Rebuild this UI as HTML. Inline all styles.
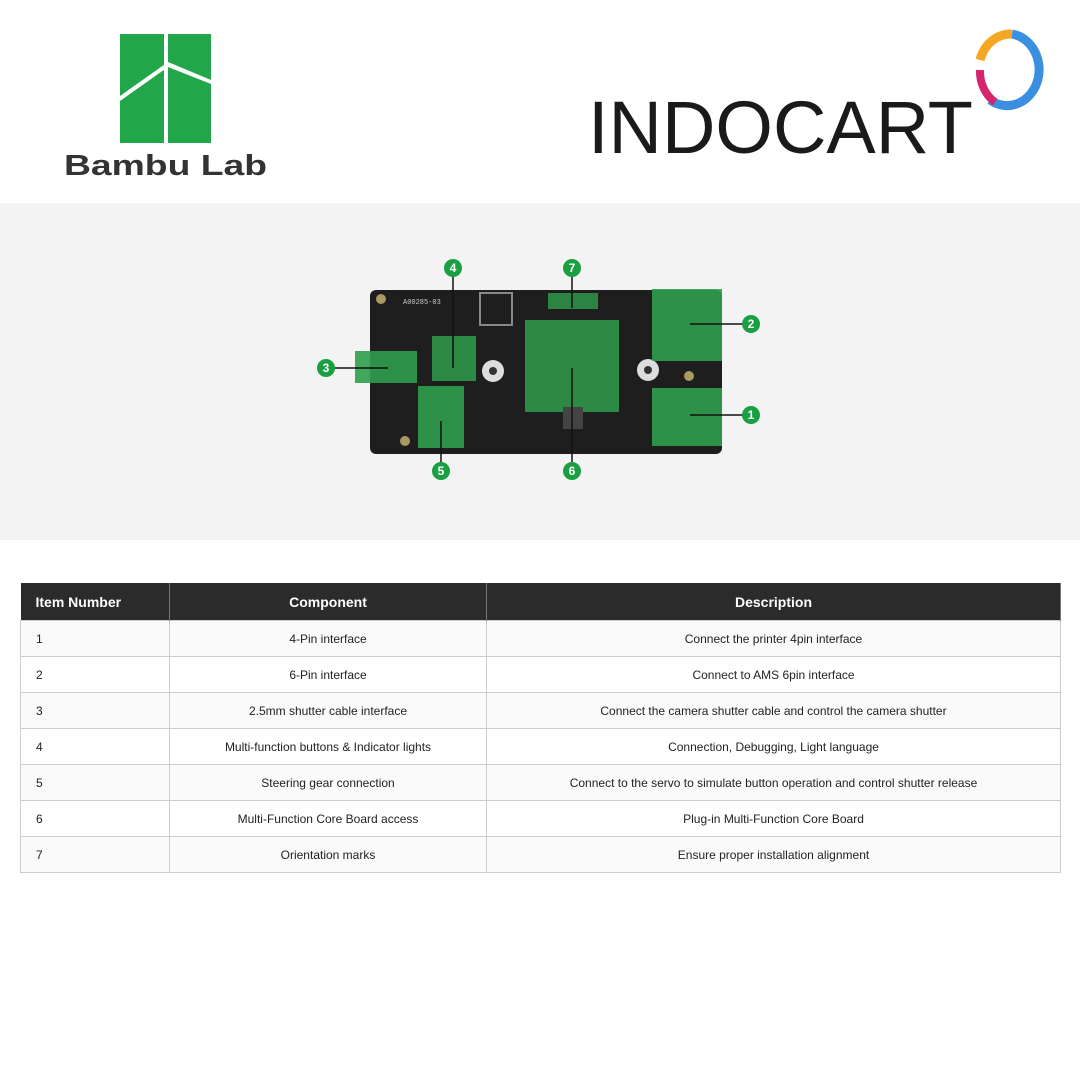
<!DOCTYPE html>
<html><head><meta charset="utf-8"><style>
body{margin:0;width:1080px;height:1080px;background:#fff;position:relative;overflow:hidden;font-family:"Liberation Sans",sans-serif}
.band{position:absolute;left:0;top:203px;width:1080px;height:337px;background:#f3f3f3}
table{position:absolute;left:20px;top:583px;width:1041px;border-collapse:collapse;font-size:12px;color:#222;table-layout:fixed}
th{background:#2b2b2b;color:#fff;height:37px;font-size:14px;font-weight:bold;border-right:1px solid #777;padding:0}
td{height:35px;border:1px solid #ccc;text-align:center;padding:0}
td:first-child{text-align:left;padding-left:15px}
th:first-child{text-align:left;padding-left:15px}
tr:nth-child(even) td{background:#fafafa}
</style></head><body>
<svg width="1080" height="200" style="position:absolute;left:0;top:0">
<rect x="120" y="34" width="91" height="109" fill="#22a64a"/>
<rect x="164" y="34" width="4" height="109" fill="#fff"/>
<polygon points="120,96 168,62 211,80 211,84 168,67 120,101" fill="#fff"/>
<text x="64" y="175" font-family="Liberation Sans,sans-serif" font-size="29" font-weight="bold" fill="#333" textLength="203" lengthAdjust="spacingAndGlyphs">Bambu Lab</text>
<text x="588" y="153" font-family="Liberation Sans,sans-serif" font-size="74" fill="#1a1a1a" textLength="385" lengthAdjust="spacingAndGlyphs">INDOCART</text>
<path d="M1012,34 A32,36 0 1 1 990,100" stroke="#3a8fe0" stroke-width="9" fill="none"/>
<path d="M1012,34 A32,36 0 0 0 980,60" stroke="#f5a623" stroke-width="9" fill="none"/>
<path d="M980,70 A32,36 0 0 0 995,102" stroke="#d6246e" stroke-width="8" fill="none"/>
</svg>
<div class="band"></div>
<svg width="1080" height="337" style="position:absolute;left:0;top:203px">
<rect x="370" y="87" width="352" height="164" rx="6" fill="#1e1e1e"/>
<rect x="480" y="90" width="32" height="32" fill="none" stroke="#888" stroke-width="2"/>
<text x="403" y="101" font-size="7" fill="#ccc" font-family="Liberation Mono,monospace">A00285-03</text>
<circle cx="381" cy="96" r="5" fill="#a89a60"/><circle cx="405" cy="238" r="5" fill="#a89a60"/><circle cx="689" cy="173" r="5" fill="#a89a60"/>
<circle cx="493" cy="168" r="11" fill="#ddd"/><circle cx="493" cy="168" r="4" fill="#333"/>
<circle cx="648" cy="167" r="11" fill="#ddd"/><circle cx="648" cy="167" r="4" fill="#333"/>
<rect x="548" y="90" width="50" height="16" fill="#2f9e4b" opacity=".8"/>
<rect x="525" y="117" width="94" height="92" fill="#2f9e4b" opacity=".85"/>
<rect x="652" y="86" width="70" height="72" fill="#2f9e4b" opacity=".9"/>
<rect x="652" y="185" width="70" height="58" fill="#2f9e4b" opacity=".9"/>
<rect x="432" y="133" width="44" height="45" fill="#2f9e4b" opacity=".85"/>
<rect x="418" y="183" width="46" height="62" fill="#2f9e4b" opacity=".9"/>
<rect x="355" y="148" width="62" height="32" fill="#2f9e4b" opacity=".9"/>
<rect x="563" y="204" width="20" height="22" fill="#444"/>
<g stroke="#111" stroke-width="1.5">
<line x1="453" y1="65" x2="453" y2="165"/><line x1="572" y1="65" x2="572" y2="105"/>
<line x1="690" y1="121" x2="750" y2="121"/><line x1="690" y1="212" x2="750" y2="212"/>
<line x1="326" y1="165" x2="388" y2="165"/><line x1="441" y1="218" x2="441" y2="262"/>
<line x1="572" y1="165" x2="572" y2="262"/>
</g>
<g fill="#1aa043"><circle cx="453" cy="65" r="9"/><circle cx="572" cy="65" r="9"/><circle cx="751" cy="121" r="9"/><circle cx="751" cy="212" r="9"/><circle cx="326" cy="165" r="9"/><circle cx="441" cy="268" r="9"/><circle cx="572" cy="268" r="9"/></g>
<g fill="#fff" font-size="12" font-weight="bold" text-anchor="middle" font-family="Liberation Sans,sans-serif">
<text x="453" y="69">4</text><text x="572" y="69">7</text><text x="751" y="125">2</text><text x="751" y="216">1</text><text x="326" y="169">3</text><text x="441" y="272">5</text><text x="572" y="272">6</text></g>
</svg>
<table>
<colgroup><col style="width:149px"><col style="width:317px"><col></colgroup>
<tr><th>Item Number</th><th>Component</th><th>Description</th></tr>
<tr><td>1</td><td>4-Pin interface</td><td>Connect the printer 4pin interface</td></tr>
<tr><td>2</td><td>6-Pin interface</td><td>Connect to AMS 6pin interface</td></tr>
<tr><td>3</td><td>2.5mm shutter cable interface</td><td>Connect the camera shutter cable and control the camera shutter</td></tr>
<tr><td>4</td><td>Multi-function buttons &amp; Indicator lights</td><td>Connection, Debugging, Light language</td></tr>
<tr><td>5</td><td>Steering gear connection</td><td>Connect to the servo to simulate button operation and control shutter release</td></tr>
<tr><td>6</td><td>Multi-Function Core Board access</td><td>Plug-in Multi-Function Core Board</td></tr>
<tr><td>7</td><td>Orientation marks</td><td>Ensure proper installation alignment</td></tr>
</table>
</body></html>
